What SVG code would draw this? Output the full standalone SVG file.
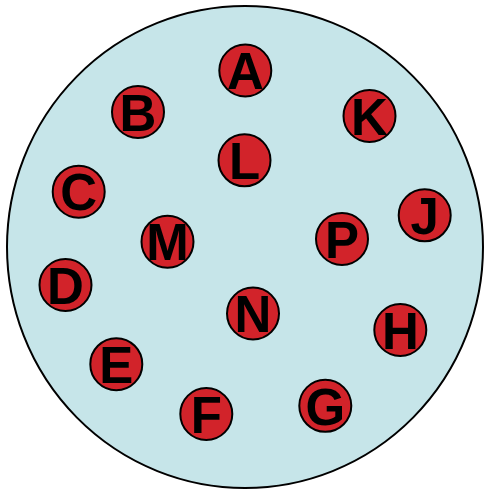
<svg xmlns="http://www.w3.org/2000/svg" width="484" height="493" viewBox="0 0 484 493">
<style>
.bg{fill:#c6e5e9;stroke:#000;stroke-width:2}
.n circle{fill:#d2232a;stroke:#000;stroke-width:2}
.n text{font-family:"Liberation Sans",Arial,sans-serif;font-weight:bold;font-size:51px;text-anchor:middle;fill:#000}
</style>
<ellipse class="bg" cx="245" cy="247" rx="238" ry="241"/>
<g id="nodes">
<g id="A" class="n"><circle cx="245.3" cy="70.5" r="26"/><text x="245.3" y="89.2">A</text></g>
<g id="B" class="n"><circle cx="138" cy="112" r="26"/><text x="138" y="130.7">B</text></g>
<g id="K" class="n"><circle cx="369.5" cy="116" r="26"/><text x="369.5" y="134.7">K</text></g>
<g id="L" class="n"><circle cx="244.5" cy="160.3" r="26"/><text x="244.5" y="179">L</text></g>
<g id="C" class="n"><circle cx="78.7" cy="191.7" r="26"/><text x="78.7" y="210.4">C</text></g>
<g id="J" class="n"><circle cx="424.7" cy="215.3" r="26"/><text x="424.7" y="234">J</text></g>
<g id="M" class="n"><circle cx="167.5" cy="241.7" r="26"/><text x="167.5" y="260.4">M</text></g>
<g id="P" class="n"><circle cx="342" cy="239" r="26"/><text x="342" y="257.7">P</text></g>
<g id="D" class="n"><circle cx="65.5" cy="285" r="26"/><text x="65.5" y="303.7">D</text></g>
<g id="N" class="n"><circle cx="253" cy="313.5" r="26"/><text x="253" y="332.2">N</text></g>
<g id="H" class="n"><circle cx="400.3" cy="330" r="26"/><text x="400.3" y="348.7">H</text></g>
<g id="E" class="n"><circle cx="116.3" cy="364.2" r="26"/><text x="116.3" y="382.9">E</text></g>
<g id="F" class="n"><circle cx="206.3" cy="414" r="26"/><text x="206.3" y="432.7">F</text></g>
<g id="G" class="n"><circle cx="325.3" cy="405.8" r="26"/><text x="325.3" y="424.5">G</text></g>
</g>
<g id="connectors"/>
</svg>
